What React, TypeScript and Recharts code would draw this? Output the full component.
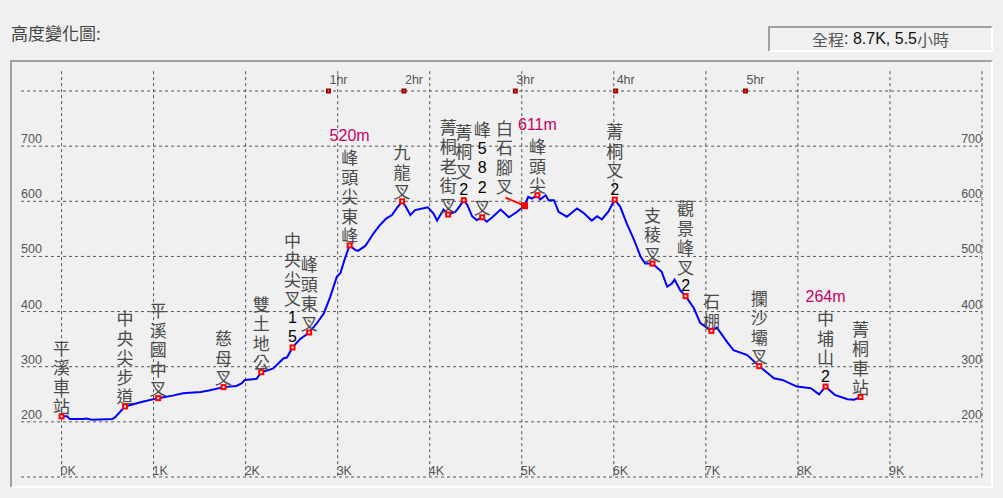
import React from "react";
import { ComposedChart, Line, XAxis, YAxis, ReferenceLine } from "recharts";

const W = 1003;
const H = 498;
// the plot area reaches under the frame border; the grid itself is drawn as segments
const PLOT_LEFT = 11;
const PLOT_RIGHT = 982;
const PLOT_TOP = 61;
const PLOT_BOTTOM = 477;
const X_MIN = -0.549;
const X_MAX = 10;
const Y_MIN = 100;
const Y_MAX = 854.4;
const GRID_X0 = -0.44;
const GRID_Y1 = 836;

const kmTicks = [0, 1, 2, 3, 4, 5, 6, 7, 8, 9, 10];
const kmLabels = ["0K", "1K", "2K", "3K", "4K", "5K", "6K", "7K", "8K", "9K"];
const elevTicks = [100, 200, 300, 400, 500, 600, 700, 800];
const elevLabels = [200, 300, 400, 500, 600, 700];

// elevation profile: km, metres
const profile = [
  { km: 0.0, elev: 210 }, { km: 0.06, elev: 210 }, { km: 0.09, elev: 205 }, { km: 0.24, elev: 205 },
  { km: 0.27, elev: 206 }, { km: 0.33, elev: 204 }, { km: 0.55, elev: 205 }, { km: 0.58, elev: 208 },
  { km: 0.69, elev: 228 }, { km: 0.89, elev: 237 }, { km: 1.05, elev: 243 }, { km: 1.22, elev: 248 },
  { km: 1.32, elev: 252 }, { km: 1.51, elev: 254 }, { km: 1.6, elev: 257 }, { km: 1.76, elev: 263 },
  { km: 1.9, elev: 265 }, { km: 1.96, elev: 270 }, { km: 1.99, elev: 276 }, { km: 2.12, elev: 278 },
  { km: 2.17, elev: 290 }, { km: 2.23, elev: 293 }, { km: 2.3, elev: 297 }, { km: 2.41, elev: 315 },
  { km: 2.45, elev: 317 }, { km: 2.51, elev: 335 }, { km: 2.59, elev: 350 }, { km: 2.69, elev: 362 },
  { km: 2.77, elev: 378 }, { km: 2.85, elev: 397 }, { km: 2.92, elev: 427 }, { km: 2.99, elev: 463 },
  { km: 3.03, elev: 470 }, { km: 3.08, elev: 497 }, { km: 3.13, elev: 520 }, { km: 3.19, elev: 512 },
  { km: 3.22, elev: 510 }, { km: 3.3, elev: 519 }, { km: 3.39, elev: 542 }, { km: 3.46, elev: 557 },
  { km: 3.53, elev: 569 }, { km: 3.59, elev: 575 }, { km: 3.64, elev: 587 }, { km: 3.7, elev: 600 },
  { km: 3.74, elev: 590 }, { km: 3.79, elev: 575 }, { km: 3.84, elev: 584 }, { km: 3.92, elev: 587 },
  { km: 3.98, elev: 589 }, { km: 4.04, elev: 578 }, { km: 4.08, elev: 565 }, { km: 4.15, elev: 585 },
  { km: 4.2, elev: 576 }, { km: 4.28, elev: 581 }, { km: 4.32, elev: 590 }, { km: 4.37, elev: 602 },
  { km: 4.41, elev: 593 }, { km: 4.46, elev: 573 }, { km: 4.51, elev: 566 }, { km: 4.57, elev: 571 },
  { km: 4.62, elev: 563 }, { km: 4.68, elev: 571 }, { km: 4.77, elev: 585 }, { km: 4.86, elev: 571 },
  { km: 4.95, elev: 581 }, { km: 5.03, elev: 592 }, { km: 5.07, elev: 608 }, { km: 5.11, elev: 605 },
  { km: 5.17, elev: 611 }, { km: 5.2, elev: 603 }, { km: 5.26, elev: 611 }, { km: 5.29, elev: 602 },
  { km: 5.35, elev: 602 }, { km: 5.4, elev: 581 }, { km: 5.49, elev: 572 }, { km: 5.6, elev: 587 },
  { km: 5.67, elev: 579 }, { km: 5.76, elev: 565 }, { km: 5.82, elev: 573 }, { km: 5.87, elev: 567 },
  { km: 5.94, elev: 581 }, { km: 6.01, elev: 603 }, { km: 6.07, elev: 590 }, { km: 6.14, elev: 560 },
  { km: 6.22, elev: 530 }, { km: 6.29, elev: 500 }, { km: 6.34, elev: 487 }, { km: 6.42, elev: 487 },
  { km: 6.52, elev: 472 }, { km: 6.58, elev: 445 }, { km: 6.63, elev: 451 }, { km: 6.66, elev: 458 },
  { km: 6.72, elev: 439 }, { km: 6.78, elev: 428 }, { km: 6.87, elev: 406 }, { km: 6.94, elev: 379 },
  { km: 7.06, elev: 365 }, { km: 7.12, elev: 371 }, { km: 7.23, elev: 345 }, { km: 7.3, elev: 330 },
  { km: 7.45, elev: 321 }, { km: 7.58, elev: 301 }, { km: 7.74, elev: 279 }, { km: 7.83, elev: 276 },
  { km: 7.99, elev: 264 }, { km: 8.14, elev: 261 }, { km: 8.23, elev: 250 }, { km: 8.3, elev: 264 },
  { km: 8.4, elev: 249 }, { km: 8.54, elev: 241 }, { km: 8.61, elev: 240 }, { km: 8.68, elev: 245 },
];

const waypoints = [
  { name: "平溪車站", km: 0.0, elev: 210 },
  { name: "中央尖步道", km: 0.69, elev: 228 },
  { name: "平溪國中叉", km: 1.05, elev: 243 },
  { name: "慈母叉", km: 1.76, elev: 263 },
  { name: "雙土地公", km: 2.17, elev: 290 },
  { name: "中央尖叉15", km: 2.51, elev: 335 },
  { name: "峰頭東叉", km: 2.69, elev: 362 },
  { name: "峰頭尖東峰", km: 3.13, elev: 520, note: "520m" },
  { name: "九龍叉", km: 3.7, elev: 600 },
  { name: "菁桐老街叉", km: 4.2, elev: 576 },
  { name: "菁桐叉2", km: 4.37, elev: 602 },
  { name: "峰582叉", km: 4.57, elev: 571 },
  { name: "白石腳叉", km: 5.03, elev: 592 },
  { name: "峰頭尖", km: 5.17, elev: 611, note: "611m" },
  { name: "菁桐叉2", km: 6.01, elev: 603 },
  { name: "支稜叉", km: 6.42, elev: 487 },
  { name: "觀景峰叉2", km: 6.78, elev: 428 },
  { name: "石棚", km: 7.06, elev: 365 },
  { name: "攔沙壩叉", km: 7.58, elev: 301 },
  { name: "中埔山2", km: 8.3, elev: 264, note: "264m" },
  { name: "菁桐車站", km: 8.68, elev: 245 },
];

const hourKm = [2.9, 3.72, 4.93, 6.02, 7.43];
const hourLabels = ["1hr", "2hr", "3hr", "4hr", "5hr"];
const HOUR_ROW = 800;
const hourMarks = hourKm.map((km, i) => ({ km, elev: HOUR_ROW, label: hourLabels[i] }));

// labels that sit off to the side with a red pointer line
const LEADER_NAMES = ["白石腳叉"];

const CJK = '"Noto Sans CJK TC", "Noto Sans CJK SC", sans-serif';
const SANS = '"Liberation Sans", Arial, sans-serif';
const isCjk = (c: string) => /[\u3400-\u9fff]/.test(c);

const STEP = 19.5;
const GRID = { stroke: "#555", strokeDasharray: "3 3", strokeWidth: 1 };

function WaypointDot(props: any) {
  const { cx, cy, payload } = props;
  if (cx == null || cy == null) return <g />;
  const chars: string[] = Array.from(payload.name);
  const leader = LEADER_NAMES.includes(payload.name);
  const tx = leader ? cx - 20 : cx;
  const lastY = leader ? cy - 20 : cy - 10.5;
  const topY = lastY - (chars.length - 1) * STEP;
  return (
    <g>
      {chars.map((c, i) => (
        <text
          key={i}
          x={tx}
          y={topY + i * STEP}
          textAnchor="middle"
          dominantBaseline="central"
          fontFamily={isCjk(c) ? CJK : SANS}
          fontSize={isCjk(c) ? 17 : 16}
          fill={isCjk(c) ? "#4a4a4a" : "#000"}
          stroke="none"
        >
          {c}
        </text>
      ))}
      {payload.note && (
        <text
          x={cx}
          y={topY - 21}
          textAnchor="middle"
          dominantBaseline="central"
          fontFamily={SANS}
          fontSize={16}
          fill="#c40064"
          stroke="none"
        >
          {payload.note}
        </text>
      )}
      {leader ? (
        <>
          <line x1={tx + 1} y1={lastY + 12} x2={cx} y2={cy} stroke="#ff0000" strokeWidth={2} />
          <rect x={cx - 3.5} y={cy - 3.5} width={7} height={7} fill="#ff0000" stroke="none" />
        </>
      ) : (
        <>
          <rect x={cx - 3} y={cy - 3} width={6} height={6} fill="#ff0000" stroke="none" />
          <rect x={cx - 1} y={cy - 1} width={2} height={2} fill="#ffffff" stroke="none" />
        </>
      )}
    </g>
  );
}

function HourDot(props: any) {
  const { cx, cy, payload } = props;
  if (cx == null || cy == null) return <g />;
  return (
    <g>
      <rect x={cx - 2.5} y={cy - 2.5} width={5} height={5} fill="#a00000" stroke="none" />
      <rect x={cx - 0.5} y={cy - 0.5} width={1} height={1} fill="#ffd0d0" stroke="none" />
      <text x={cx + 1} y={cy - 7} fontFamily={SANS} fontSize={12.5} fill="#555" stroke="none">
        {payload.label}
      </text>
    </g>
  );
}

// tick labels hang off the grid lines themselves
const kmLabel = (v: number) => (p: any) => {
  const label = kmLabels[kmTicks.indexOf(v)];
  if (!label || !p.viewBox) return null;
  const { x, y, height } = p.viewBox;
  return (
    <text x={x - 1} y={y + height - 2} fontFamily={SANS} fontSize={12.5} fill="#555">
      {label}
    </text>
  );
};

const elevLabel = (v: number) => (p: any) => {
  if (!elevLabels.includes(v) || !p.viewBox) return null;
  const { x, y, width } = p.viewBox;
  return (
    <g>
      <text x={x} y={y - 3} fontFamily={SANS} fontSize={12.5} fill="#555">
        {v}
      </text>
      <text x={x + width} y={y - 3} textAnchor="end" fontFamily={SANS} fontSize={12.5} fill="#555">
        {v}
      </text>
    </g>
  );
};

const sunken = {
  position: "absolute" as const,
  boxSizing: "border-box" as const,
  borderTop: "2px solid #a0a0a0",
  borderLeft: "2px solid #a0a0a0",
  borderBottom: "2px solid #ffffff",
  borderRight: "2px solid #ffffff",
};

export default function App() {
  return (
    <div style={{ position: "absolute", left: 0, top: 0, width: W, height: H, background: "#f0f0f0", overflow: "hidden" }}>
      <div style={{ position: "absolute", left: 11, top: 22, fontFamily: CJK, fontSize: 17, color: "#444", lineHeight: "22px" }}>
        高度變化圖:
      </div>
      <div style={{ ...sunken, left: 768, top: 26, width: 225, height: 26, display: "flex", alignItems: "center", justifyContent: "center", fontSize: 16 }}>
        <span style={{ fontFamily: CJK, color: "#555" }}>全程</span>
        <span style={{ fontFamily: SANS, color: "#111" }}>: 8.7K, 5.5</span>
        <span style={{ fontFamily: CJK, color: "#555" }}>小時</span>
      </div>
      <div style={{ position: "absolute", left: 0, top: 0 }}>
        <ComposedChart
          width={W}
          height={H}
          data={profile}
          margin={{ top: PLOT_TOP, left: PLOT_LEFT - 1, right: W - PLOT_RIGHT, bottom: H - PLOT_BOTTOM - 1 }}
        >
          <XAxis
            dataKey="km"
            type="number"
            domain={[X_MIN, X_MAX]}
            ticks={kmTicks}
            allowDataOverflow
            axisLine={false}
            tickLine={false}
            height={1}
            tick={false}
          />
          <YAxis
            type="number"
            domain={[Y_MIN, Y_MAX]}
            ticks={elevTicks}
            allowDataOverflow
            axisLine={false}
            tickLine={false}
            width={1}
            tick={false}
          />
          {kmTicks.map((v) => (
            <ReferenceLine
              key={`x${v}`}
              segment={[{ x: v, y: GRID_Y1 }, { x: v, y: Y_MIN }]}
              {...GRID}
              label={{ content: kmLabel(v) }}
            />
          ))}
          {elevTicks.map((v) => (
            <ReferenceLine
              key={`y${v}`}
              segment={[{ x: GRID_X0, y: v }, { x: X_MAX, y: v }]}
              {...GRID}
              label={{ content: elevLabel(v) }}
            />
          ))}
          <Line
            dataKey="elev"
            type="linear"
            stroke="#0000ff"
            strokeWidth={2}
            dot={false}
            activeDot={false}
            isAnimationActive={false}
          />
          <Line
            data={hourMarks}
            dataKey="elev"
            stroke="none"
            dot={(p: any) => <HourDot key={`h${p.index}`} {...p} />}
            activeDot={false}
            isAnimationActive={false}
          />
          <Line
            data={waypoints}
            dataKey="elev"
            stroke="none"
            dot={(p: any) => <WaypointDot key={`w${p.index}`} {...p} />}
            activeDot={false}
            isAnimationActive={false}
          />
        </ComposedChart>
      </div>
      <div style={{ ...sunken, left: 10, top: 60, width: 983, height: 428, pointerEvents: "none" }} />
    </div>
  );
}
